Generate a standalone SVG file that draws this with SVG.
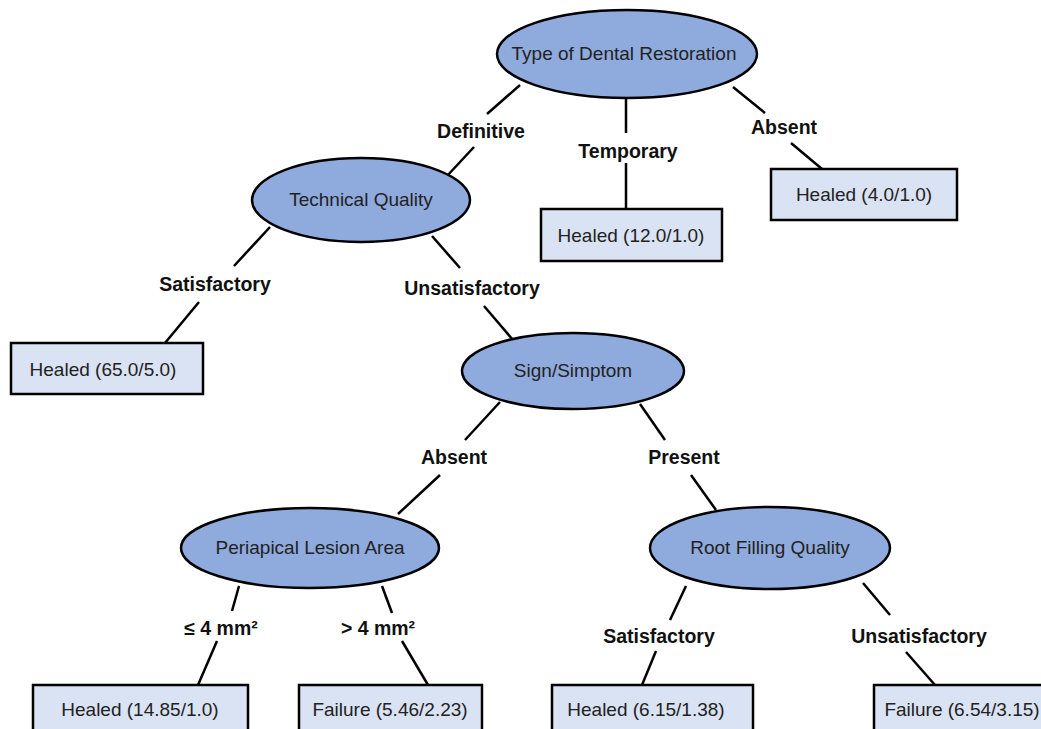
<svg xmlns="http://www.w3.org/2000/svg" width="1041" height="729" viewBox="0 0 1041 729">
<style>
.el{fill:#8faadc;stroke:#000;stroke-width:2.5}
.bx{fill:#dae3f3;stroke:#000;stroke-width:2.5}
.nt{font-family:"Liberation Sans",Arial,sans-serif;font-size:19px;fill:#222;text-anchor:middle;dominant-baseline:central}
.lb{font-family:"Liberation Sans",Arial,sans-serif;font-size:19.5px;font-weight:bold;fill:#111;text-anchor:middle;dominant-baseline:central}
.cn line{stroke:#000;stroke-width:2.5}
</style>
<rect width="1041" height="729" fill="#fff"/>
<g id="connectors" class="cn">
<line x1="520" y1="85" x2="487" y2="114"/><line x1="474" y1="147" x2="447" y2="176"/>
<line x1="626" y1="98" x2="626" y2="133"/><line x1="626" y1="163" x2="626" y2="209"/>
<line x1="733" y1="87" x2="765" y2="113"/><line x1="791" y1="143" x2="822" y2="169"/>
<line x1="270" y1="227" x2="234" y2="266"/><line x1="199" y1="302" x2="165" y2="343"/>
<line x1="432" y1="236" x2="460" y2="268"/><line x1="484" y1="306" x2="513" y2="340"/>
<line x1="500" y1="402" x2="465" y2="440"/><line x1="440" y1="475" x2="398" y2="514"/>
<line x1="640" y1="404" x2="665" y2="440"/><line x1="691" y1="475" x2="716" y2="510"/>
<line x1="239" y1="586" x2="232" y2="611"/><line x1="217" y1="641" x2="198" y2="685"/>
<line x1="382" y1="586" x2="392" y2="613"/><line x1="402" y1="641" x2="428" y2="685"/>
<line x1="686" y1="586" x2="670" y2="620"/><line x1="656" y1="651" x2="642" y2="685"/>
<line x1="863" y1="583" x2="890" y2="615"/><line x1="906" y1="652" x2="935" y2="685"/>
<text class="lb" x="481" y="131">Definitive</text>
<text class="lb" x="628" y="151">Temporary</text>
<text class="lb" x="784" y="127">Absent</text>
<text class="lb" x="215" y="284">Satisfactory</text>
<text class="lb" x="472" y="288">Unsatisfactory</text>
<text class="lb" x="454" y="457">Absent</text>
<text class="lb" x="684" y="457">Present</text>
<text class="lb" x="221" y="628">≤ 4 mm²</text>
<text class="lb" x="378" y="628">&gt; 4 mm²</text>
<text class="lb" x="659" y="636">Satisfactory</text>
<text class="lb" x="919" y="636">Unsatisfactory</text>
</g>
<g id="root"><ellipse class="el" cx="627" cy="54" rx="130" ry="44"/><text class="nt" x="624" y="53">Type of Dental Restoration</text></g>
<g id="technical"><ellipse class="el" cx="361" cy="200" rx="109" ry="42"/><text class="nt" x="361" y="199">Technical Quality</text></g>
<g id="sign"><ellipse class="el" cx="573" cy="371" rx="111" ry="38"/><text class="nt" x="573" y="370">Sign/Simptom</text></g>
<g id="periapical"><ellipse class="el" cx="310" cy="548" rx="129" ry="40"/><text class="nt" x="310" y="547">Periapical Lesion Area</text></g>
<g id="rootfilling"><ellipse class="el" cx="770" cy="548" rx="120" ry="41"/><text class="nt" x="770" y="547">Root Filling Quality</text></g>
<g id="healed12"><rect class="bx" x="541" y="209" width="181" height="52"/><text class="nt" x="631" y="235">Healed (12.0/1.0)</text></g>
<g id="healed4"><rect class="bx" x="771" y="169" width="186" height="51"/><text class="nt" x="864" y="194">Healed (4.0/1.0)</text></g>
<g id="healed65"><rect class="bx" x="11" y="343" width="192" height="51"/><text class="nt" x="103" y="369">Healed (65.0/5.0)</text></g>
<g id="healed1485"><rect class="bx" x="33" y="685" width="215" height="60"/><text class="nt" x="140" y="709">Healed (14.85/1.0)</text></g>
<g id="failure546"><rect class="bx" x="299" y="685" width="183" height="60"/><text class="nt" x="390" y="709">Failure (5.46/2.23)</text></g>
<g id="healed615"><rect class="bx" x="552" y="685" width="201" height="60"/><text class="nt" x="646" y="709">Healed (6.15/1.38)</text></g>
<g id="failure654"><rect class="bx" x="874" y="685" width="200" height="60"/><text class="nt" x="962" y="709">Failure (6.54/3.15)</text></g>
</svg>
